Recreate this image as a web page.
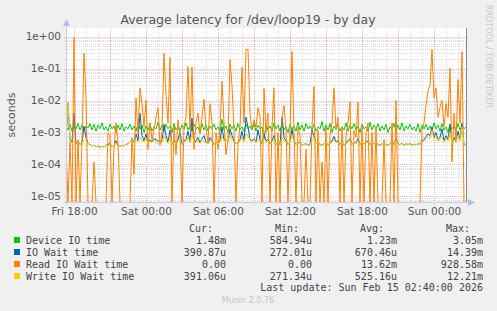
<!DOCTYPE html>
<html>
<head>
<meta charset="utf-8">
<script src="https://cdn.jsdelivr.net/npm/d3@7"></script>
<style>
  body { margin: 0; background: #f0f0f0; }
  svg { display: block; }
</style>
</head>
<body>
<div id="chart"></div>
<script>
// Data (values in ms, one point every 10 minutes from Fri 17:20)
const startTime = new Date(2026, 1, 13, 17, 20);
const stepMinutes = 10;

const deviceIO = [
  1.5,1.2,1.8,1.1,1.6,1.3,1.9,1.2,1.7,1.1,
  1.6,1.4,1.9,1.2,1.8,1.1,1.7,1.3,2.0,1.2,
  1.5,1.1,1.8,1.3,1.6,1.0,1.7,1.2,1.9,1.1,
  1.5,1.3,1.8,1.2,1.6,1.1,1.9,1.3,1.7,1.0,
  1.6,1.2,1.8,1.1,1.5,1.3,2.1,1.2,1.7,1.1,
  1.8,1.3,1.6,1.0,1.9,1.2,1.5,1.1,1.7,1.3,
  2.0,1.2,1.6,1.1,1.8,1.3,1.5,1.0,1.9,1.2,
  1.7,1.1,1.6,1.3,1.8,1.2,1.5,1.1,2.6,1.2,
  1.6,1.0,1.8,1.3,1.7,1.1,1.9,1.2,1.5,1.1,
  1.8,1.3,1.6,1.2,1.9,1.1,1.7,1.3,1.5,0.6,
  1.8,1.2,1.6,1.1,2.0,1.3,1.7,1.1,1.9,1.2,
  1.5,1.0,1.8,1.3,1.6,1.1,2.1,1.2,1.7,1.1,
  1.9,1.3,1.6,1.2,1.8,1.1,1.5,1.3,2.2,1.1,
  1.7,1.2,1.9,1.0,1.6,1.3,1.8,1.1,1.5,1.2,
  2.0,1.1,1.7,1.3,1.9,1.2,1.6,1.0,1.8,1.3,
  1.5,1.1,2.1,1.2,1.7,1.3,1.9,1.1,1.6,1.2,
  1.8,1.0,1.5,1.3,1.9,1.1,1.7,1.2,2.0,1.1,
  1.6,1.3,1.8,1.2,1.5,1.1,1.9,1.0,1.7,1.3,
  1.8,1.2,1.6,1.1,2.0,1.3,1.7,1.1,1.9,1.2,
  1.5,1.0,1.8,1.3,1.6,1.1,1.9,1.2,1.7,1.3,
  1.48
];

const ioWait = [
  0.5,8.5,0.55,0.5,4.0,0.45,0.5,0.42,0.48,1.6,
  0.7,0.45,0.42,0.38,0.4,0.36,0.38,0.34,0.37,0.35,
  0.4,0.42,0.45,0.36,0.4,0.55,0.4,0.36,0.4,0.38,
  0.42,0.45,0.5,0.6,0.48,0.9,0.55,4.0,0.8,0.55,
  0.9,0.45,0.6,0.5,0.65,0.6,0.55,0.52,0.5,1.8,
  0.8,0.5,1.2,0.42,0.55,0.45,0.6,1.0,0.42,0.55,
  0.6,1.1,0.5,2.8,0.45,0.55,0.7,0.48,0.65,0.8,
  0.5,0.45,0.7,0.55,0.42,0.5,0.45,0.55,1.5,0.6,
  0.6,0.5,1.3,0.8,0.55,0.45,0.48,0.6,1.1,0.55,
  3.0,1.5,0.6,0.55,0.65,0.5,1.2,0.6,0.45,0.9,
  0.55,0.6,0.45,0.55,0.8,0.42,0.5,0.4,3.0,0.7,
  0.55,0.42,0.5,1.3,0.55,0.42,0.48,0.5,0.4,0.43,
  0.45,0.4,0.42,1.2,0.8,0.45,0.5,0.42,0.4,0.44,
  0.5,0.4,0.47,0.55,0.75,0.5,0.55,0.42,0.5,0.4,
  0.47,0.55,0.65,0.42,0.5,0.45,0.65,0.42,0.52,0.44,
  0.48,0.55,0.42,0.5,0.44,0.52,0.42,0.4,0.44,0.47,
  0.42,0.4,0.43,0.55,0.42,0.65,0.44,0.42,0.46,0.4,
  0.44,0.42,0.45,0.4,0.43,0.41,0.45,0.42,0.55,0.6,
  0.75,0.9,0.8,1.5,0.7,1.0,0.6,0.7,1.3,0.55,
  0.8,0.6,1.8,0.45,0.7,0.5,1.1,0.6,2.0,0.42,
  0.391
];

const readIOWait = [
  0.4,0,0.5,0,928.58,0,0.6,0,0.5,300,
  12,0,0,0,0.12,0,0,0,0,0,
  0,1.0,0.8,0,0.3,2.0,0.5,0,0,0,
  0,0,0,0.7,0.05,12,0.9,25,8,1.5,
  10,0.3,2,0.6,1.2,3,6,0.4,1.0,300,
  15,2,220,0,1.5,0.2,2.5,0.8,0,1.5,
  3,115,1.2,110,0.3,2,4,0.9,3,11,
  1.2,0.5,8,2,0,1,0.3,1.5,40,2,
  0.2,0.6,190,30,1.2,0,0.4,1.5,110,2,
  390,400,4,1.2,2.5,1.5,6,3,0,24,
  1,4,0,1.5,25,0,1,0,3,7,
  1.2,0,1.2,340,1,0,1.5,0.8,0,0,
  0.3,0,0,1.5,27,0,1.2,0,0.12,0,
  1.5,0,0.8,2,25,1.2,3,0,1.5,0,
  0.8,2,9,0,1.2,0.7,9,0,1.5,0,
  1,2,0,1,0,1.5,0,0,0,0.6,
  0,0,0,2,0,10,0,0,0,0,
  0,0,0,0,0,0,0,0,1.2,2,
  7,20,30,390,12,25,3,6,10,1.5,
  8,3,100,0.12,4,0.5,45,2,340,0,
  0
];

const writeIOWait = [
  0.5,9.0,0.55,0.45,0.5,0.42,0.48,0.4,0.45,0.6,
  0.55,0.45,0.42,0.38,0.4,0.36,0.38,0.34,0.37,0.35,
  0.4,0.37,0.42,0.36,0.4,0.45,0.38,0.36,0.4,0.38,
  0.42,0.45,0.5,0.55,0.48,0.6,0.5,0.7,0.55,0.5,
  0.65,0.45,0.55,0.48,0.6,0.5,0.45,0.52,0.48,0.8,
  0.55,0.45,0.7,0.42,0.5,0.45,0.55,0.6,0.42,0.5,
  0.55,0.7,0.48,0.9,0.45,0.5,0.55,0.45,0.6,0.5,
  0.48,0.45,0.55,0.5,0.42,0.48,0.45,0.5,0.75,0.55,
  0.6,0.48,0.85,0.6,0.5,0.45,0.48,0.55,0.7,0.5,
  0.9,0.8,0.55,0.5,0.6,0.48,0.6,0.52,0.45,0.65,
  0.5,0.55,0.45,0.5,0.6,0.42,0.48,0.4,0.7,0.55,
  0.5,0.42,0.48,0.85,0.5,0.42,0.45,0.48,0.4,0.43,
  0.45,0.4,0.42,0.55,0.65,0.45,0.48,0.42,0.4,0.44,
  0.48,0.4,0.45,0.5,0.6,0.48,0.5,0.42,0.47,0.4,
  0.45,0.5,0.55,0.42,0.48,0.45,0.55,0.42,0.5,0.44,
  0.46,0.5,0.42,0.48,0.44,0.5,0.42,0.4,0.44,0.46,
  0.42,0.4,0.43,0.5,0.42,0.55,0.44,0.42,0.46,0.4,
  0.44,0.42,0.45,0.4,0.43,0.41,0.45,0.42,0.5,0.55,
  0.6,0.7,0.65,1.2,0.6,0.75,0.55,0.6,0.7,0.5,
  0.65,0.55,1.0,0.45,0.6,0.5,0.8,0.55,1.5,0.42,
  0.391
];

const yTicks = [1, 1e-1, 1e-2, 1e-3, 1e-4, 1e-5];
const yTickLabels = ["1e+00", "1e-01", "1e-02", "1e-03", "1e-04", "1e-05"];
const xTicks = [
  new Date(2026, 1, 13, 18), new Date(2026, 1, 14, 0), new Date(2026, 1, 14, 6),
  new Date(2026, 1, 14, 12), new Date(2026, 1, 14, 18), new Date(2026, 1, 15, 0)
];
const xTickLabels = ["Fri 18:00", "Sat 00:00", "Sat 06:00", "Sat 12:00", "Sat 18:00", "Sun 00:00"];

const seriesNames = ["Device IO time", "IO Wait time", "Read IO Wait time", "Write IO Wait time"];
const seriesColors = ["#00cc00", "#0066b3", "#ff8000", "#ffcc00"];
const curValues = ["1.48m", "390.87u", "0.00", "391.06u"];
const minValues = ["584.94u", "272.01u", "0.00", "271.34u"];
const avgValues = ["1.23m", "670.46u", "13.62m", "525.16u"];
const maxValues = ["3.05m", "14.39m", "928.58m", "12.21m"];

function draw() {
  const dimensions = {
    width: 497,
    height: 311,
    left: 67,
    right: 466,
    top: 28,
    bottom: 202,
  };

  const svg = d3
    .select("#chart")
    .append("svg")
    .attr("width", dimensions.width)
    .attr("height", dimensions.height)
    .style("font-family", "'DejaVu Sans', sans-serif");

  svg.append("rect")
    .attr("width", dimensions.width)
    .attr("height", dimensions.height)
    .attr("fill", "#f0f0f0");

  // Scales
  const endTime = new Date(startTime.getTime() + 200 * stepMinutes * 60000);
  const xScale = d3
    .scaleTime()
    .domain([startTime, endTime])
    .range([66, dimensions.right]);

  const yScale = d3
    .scaleLog()
    .domain([Math.pow(10, -5.172), Math.pow(10, 0.266)])
    .range([dimensions.bottom, dimensions.top]);

  // Canvas
  svg.append("rect")
    .attr("x", dimensions.left)
    .attr("y", dimensions.top)
    .attr("width", dimensions.right - dimensions.left)
    .attr("height", dimensions.bottom - dimensions.top)
    .attr("fill", "#ffffff");

  // Grid
  const grid = svg.append("g").attr("shape-rendering", "crispEdges");
  const minorColor = "#dedede";
  const majorColor = "#efb4b4";
  const minorY = [];
  for (let e = -6; e <= 0; e++) {
    for (let k = 2; k <= 9; k++) {
      const v = k * Math.pow(10, e);
      if (v > yScale.domain()[0] && v < yScale.domain()[1]) minorY.push(v);
    }
  }
  grid.selectAll(".hminor")
    .data(minorY)
    .join("line")
    .attr("x1", dimensions.left - 2)
    .attr("x2", dimensions.right)
    .attr("y1", (d) => Math.round(yScale(d)) + 0.5)
    .attr("y2", (d) => Math.round(yScale(d)) + 0.5)
    .attr("stroke", minorColor)
    .attr("stroke-dasharray", "1,1");

  const hours = xScale.ticks(d3.timeHour.every(1));
  const majorHours = xScale.ticks(d3.timeHour.every(3));
  grid.selectAll(".vminor")
    .data(hours.filter((d) => d.getHours() % 3 !== 0))
    .join("line")
    .attr("x1", (d) => Math.round(xScale(d)) + 0.5)
    .attr("x2", (d) => Math.round(xScale(d)) + 0.5)
    .attr("y1", dimensions.top)
    .attr("y2", dimensions.bottom + 2)
    .attr("stroke", minorColor)
    .attr("stroke-dasharray", "1,1");

  grid.selectAll(".hmajor")
    .data(yTicks)
    .join("line")
    .attr("x1", dimensions.left - 3)
    .attr("x2", dimensions.right)
    .attr("y1", (d) => Math.round(yScale(d)) + 0.5)
    .attr("y2", (d) => Math.round(yScale(d)) + 0.5)
    .attr("stroke", majorColor)
    .attr("stroke-dasharray", "1,1");

  grid.selectAll(".vmajor")
    .data(majorHours)
    .join("line")
    .attr("x1", (d) => Math.round(xScale(d)) + 0.5)
    .attr("x2", (d) => Math.round(xScale(d)) + 0.5)
    .attr("y1", dimensions.top)
    .attr("y2", dimensions.bottom + 3)
    .attr("stroke", majorColor)
    .attr("stroke-dasharray", "1,1");

  // Lines
  svg.append("clipPath")
    .attr("id", "plot-clip")
    .append("rect")
    .attr("x", dimensions.left)
    .attr("y", dimensions.top)
    .attr("width", dimensions.right - dimensions.left + 1)
    .attr("height", dimensions.bottom - dimensions.top + 1);

  const timeAt = (i) => new Date(startTime.getTime() + i * stepMinutes * 60000);
  const lineGenerator = d3
    .line()
    .x((d, i) => xScale(timeAt(i)))
    .y((d) => (d > 0 ? yScale(d / 1000) : dimensions.bottom + 0.5));

  const plot = svg.append("g").attr("clip-path", "url(#plot-clip)");
  [deviceIO, ioWait, readIOWait, writeIOWait].forEach((series, i) => {
    plot.append("path")
      .datum(series)
      .attr("d", lineGenerator)
      .attr("fill", "none")
      .attr("stroke", seriesColors[i])
      .attr("stroke-width", 1);
  });

  // Current time marker
  svg.append("line")
    .attr("x1", dimensions.right + 0.5)
    .attr("x2", dimensions.right + 0.5)
    .attr("y1", dimensions.top)
    .attr("y2", dimensions.bottom + 1)
    .attr("stroke", "#888888");

  // Axes
  const axisColor = "#c8ccf0";
  svg.append("line")
    .attr("x1", dimensions.left - 3)
    .attr("x2", dimensions.right + 3)
    .attr("y1", dimensions.bottom + 0.5)
    .attr("y2", dimensions.bottom + 0.5)
    .attr("stroke", axisColor);
  svg.append("line")
    .attr("x1", dimensions.left - 0.5)
    .attr("x2", dimensions.left - 0.5)
    .attr("y1", dimensions.bottom + 3)
    .attr("y2", dimensions.top - 4)
    .attr("stroke", axisColor);
  svg.append("path")
    .attr("d", `M${dimensions.left - 4},${dimensions.top - 2}L${dimensions.left - 0.5},${dimensions.top - 9}L${dimensions.left + 3},${dimensions.top - 2}Z`)
    .attr("fill", "#b4bcef");
  svg.append("path")
    .attr("d", `M${dimensions.right + 2},${dimensions.bottom - 3}L${dimensions.right + 9},${dimensions.bottom + 0.5}L${dimensions.right + 2},${dimensions.bottom + 4}Z`)
    .attr("fill", "#b4bcef");

  const yAxis = d3
    .axisLeft(yScale)
    .tickValues(yTicks)
    .tickFormat((d, i) => yTickLabels[i])
    .tickSize(0)
    .tickPadding(5);
  const yAxisGroup = svg.append("g")
    .attr("transform", `translate(${dimensions.left - 1},0)`)
    .call(yAxis);
  yAxisGroup.select(".domain").remove();
  yAxisGroup.selectAll("text")
    .attr("fill", "#555")
    .style("font-size", "10.5px")
    .style("font-family", "'DejaVu Sans', sans-serif");

  const xAxis = d3
    .axisBottom(xScale)
    .tickValues(xTicks)
    .tickFormat((d, i) => xTickLabels[i])
    .tickSize(0)
    .tickPadding(6);
  const xAxisGroup = svg.append("g")
    .attr("transform", `translate(0,${dimensions.bottom})`)
    .call(xAxis);
  xAxisGroup.select(".domain").remove();
  xAxisGroup.selectAll("text")
    .attr("fill", "#555")
    .style("font-size", "10.5px")
    .style("font-family", "'DejaVu Sans', sans-serif");

  // Titles
  svg.append("text")
    .attr("x", 248)
    .attr("y", 24)
    .attr("text-anchor", "middle")
    .attr("fill", "#555")
    .style("font-size", "12.5px")
    .text("Average latency for /dev/loop19 - by day");

  svg.append("text")
    .attr("transform", "translate(15,115) rotate(-90)")
    .attr("text-anchor", "middle")
    .attr("fill", "#555")
    .style("font-size", "11px")
    .text("seconds");

  svg.append("text")
    .attr("transform", "translate(486,5) rotate(90)")
    .attr("text-anchor", "start")
    .attr("fill", "#c8c8c8")
    .style("font-size", "8px")
    .text("RRDTOOL / TOBI OETIKER");

  // Legend
  const legend = svg.append("g")
    .style("font-family", "'DejaVu Sans Mono', monospace")
    .style("font-size", "10px")
    .style("white-space", "pre")
    .attr("fill", "#444");

  const columns = [
    { title: "Cur:", right: 226, values: curValues },
    { title: "Min:", right: 312, values: minValues },
    { title: "Avg:", right: 397, values: avgValues },
    { title: "Max:", right: 483, values: maxValues },
  ];
  const headerY = 232;
  const rowY = (i) => 243.5 + i * 12;

  columns.forEach((col) => {
    legend.append("text")
      .attr("x", col.right - 13)
      .attr("y", headerY)
      .attr("text-anchor", "end")
      .text(col.title);
    legend.selectAll(null)
      .data(col.values)
      .join("text")
      .attr("x", col.right)
      .attr("y", (d, i) => rowY(i))
      .attr("text-anchor", "end")
      .text((d) => (/[a-z]$/.test(d) ? d : d + " "));
  });

  legend.selectAll(".swatch")
    .data(seriesNames)
    .join("rect")
    .attr("x", 14)
    .attr("y", (d, i) => rowY(i) - 6.5)
    .attr("width", 6)
    .attr("height", 6)
    .attr("fill", (d, i) => seriesColors[i]);

  legend.selectAll(".name")
    .data(seriesNames)
    .join("text")
    .attr("x", 26)
    .attr("y", (d, i) => rowY(i))
    .text((d) => d);

  legend.append("text")
    .attr("x", 483)
    .attr("y", 291)
    .attr("text-anchor", "end")
    .text("Last update: Sun Feb 15 02:40:00 2026");

  svg.append("text")
    .attr("x", 248)
    .attr("y", 303)
    .attr("text-anchor", "middle")
    .attr("fill", "#c4c4c4")
    .style("font-size", "8px")
    .text("Munin 2.0.76");
}

draw();
</script>
</body>
</html>
